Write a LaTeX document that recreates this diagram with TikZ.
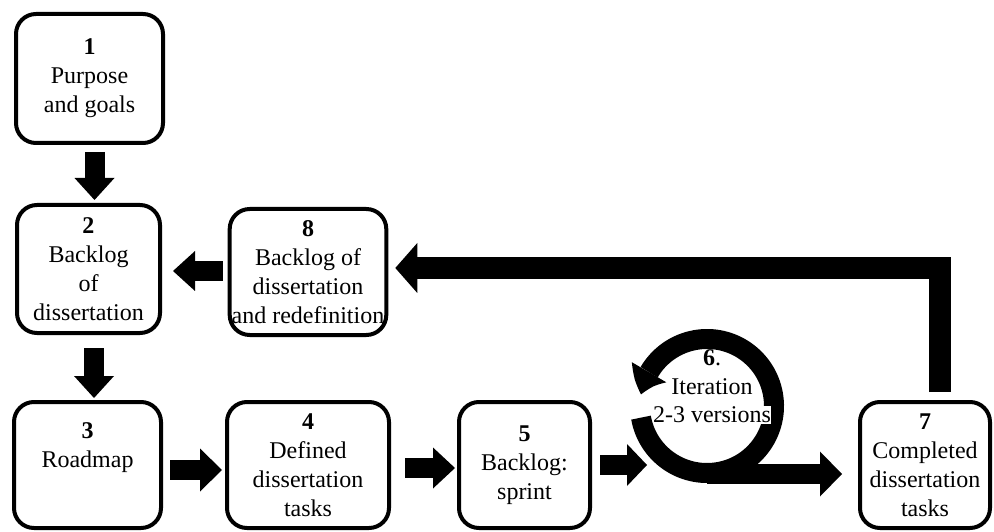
\documentclass[tikz,border=0pt]{standalone}
\usepackage{fontspec}
\setmainfont{Liberation Serif}
\usetikzlibrary{arrows.meta,bending,positioning}

\begin{document}
\begin{tikzpicture}[x=1pt, y=1pt,
    stage/.style={draw, line width=4pt, rounded corners=20pt, align=center, inner sep=2pt, font=\fontsize{24}{29}\selectfont},
    blk/.style={line width=20pt, -{Triangle[width=40pt, length=22pt, line width=0pt]}},
    ringline/.style={line width=20pt, -{Triangle[bend, width=40pt, length=24pt, line width=0pt]}},
    looptext/.style={font=\fontsize{24}{29}\selectfont, align=center, inner sep=0.5pt}
]
    \useasboundingbox (0,0) rectangle (994,531);

    % left column
    \node[stage, minimum width=147pt, minimum height=129pt] (purpose) at (89.5,452.5) {\textbf{1}\\Purpose\\and goals};
    \node[stage, minimum width=143pt, minimum height=128pt] (backlog) at (88.5,262) {\textbf{2}\\Backlog\\of\\dissertation};
    \node[stage, minimum width=156pt, minimum height=126pt] (redef) at (308,259) {\textbf{8}\\Backlog of\\dissertation\\and redefinition};

    % bottom row
    \node[stage, minimum width=147pt, minimum height=126pt] (roadmap) at (87.5,66) {\textbf{3}\\Roadmap\\[10pt]\mbox{}};
    \node[stage, minimum width=162pt, minimum height=126pt] (tasks) at (308,66) {\textbf{4}\\Defined\\dissertation\\tasks};
    \node[stage, minimum width=131pt, minimum height=126pt] (sprint) at (524.5,66) {\textbf{5}\\Backlog:\\sprint};
    \node[stage, minimum width=130pt, minimum height=126pt] (done) at (925,66) {\textbf{7}\\Completed\\dissertation\\tasks};

    % block arrows
    \draw[blk, shorten <=7pt, shorten >=3pt] ([xshift=5pt]purpose.south) -- ([xshift=6pt]backlog.north);
    \draw[blk, shorten <=13pt, shorten >=2pt] ([xshift=5.5pt]backlog.south) -- ([xshift=6.5pt]roadmap.north);
    \draw[blk, shorten <=5pt, shorten >=11pt] ([yshift=1pt]redef.west) -- ([yshift=-2pt]backlog.east);
    \draw[blk, -{Triangle[width=43pt, length=22pt, line width=0pt]}, shorten <=7pt, shorten >=3pt] ([yshift=-5pt]roadmap.east) -- ([yshift=-5pt]tasks.west);
    \draw[blk, -{Triangle[width=41pt, length=22pt, line width=0pt]}, shorten <=14pt, shorten >=2pt] ([yshift=-3pt]tasks.east) -- ([yshift=-3pt]sprint.west);

    % iteration loop
    \coordinate (ringc) at (707,125);
    \coordinate (loopin) at (647,66);
    \coordinate (ringbot) at (707,57);
    \draw[blk, -{Triangle[width=42pt, length=20pt, line width=0pt]}, shorten <=8pt] (sprint.east) -- (loopin);
    \draw[ringline] ([shift={(190:67)}]ringc) arc[start angle=190, end angle=530, radius=67];
    \draw[blk, -{Triangle[width=45pt, length=22pt, line width=0pt]}, shorten >=16pt] (ringbot) -- (ringbot -| done.west);
    \node[looptext] (iterhead) at (712,159) {\textbf{6}.\\Iteration};
    \node[looptext, fill=white] (iterver) at (712,116) {2-3 versions};

    % return to backlog
    \draw[blk, line width=22pt, -{Triangle[width=50pt, length=22pt, line width=0pt]}, shorten <=8pt, shorten >=7pt] ([xshift=15pt]done.north) |- ([yshift=4pt]redef.east);

\end{tikzpicture}
\end{document}
